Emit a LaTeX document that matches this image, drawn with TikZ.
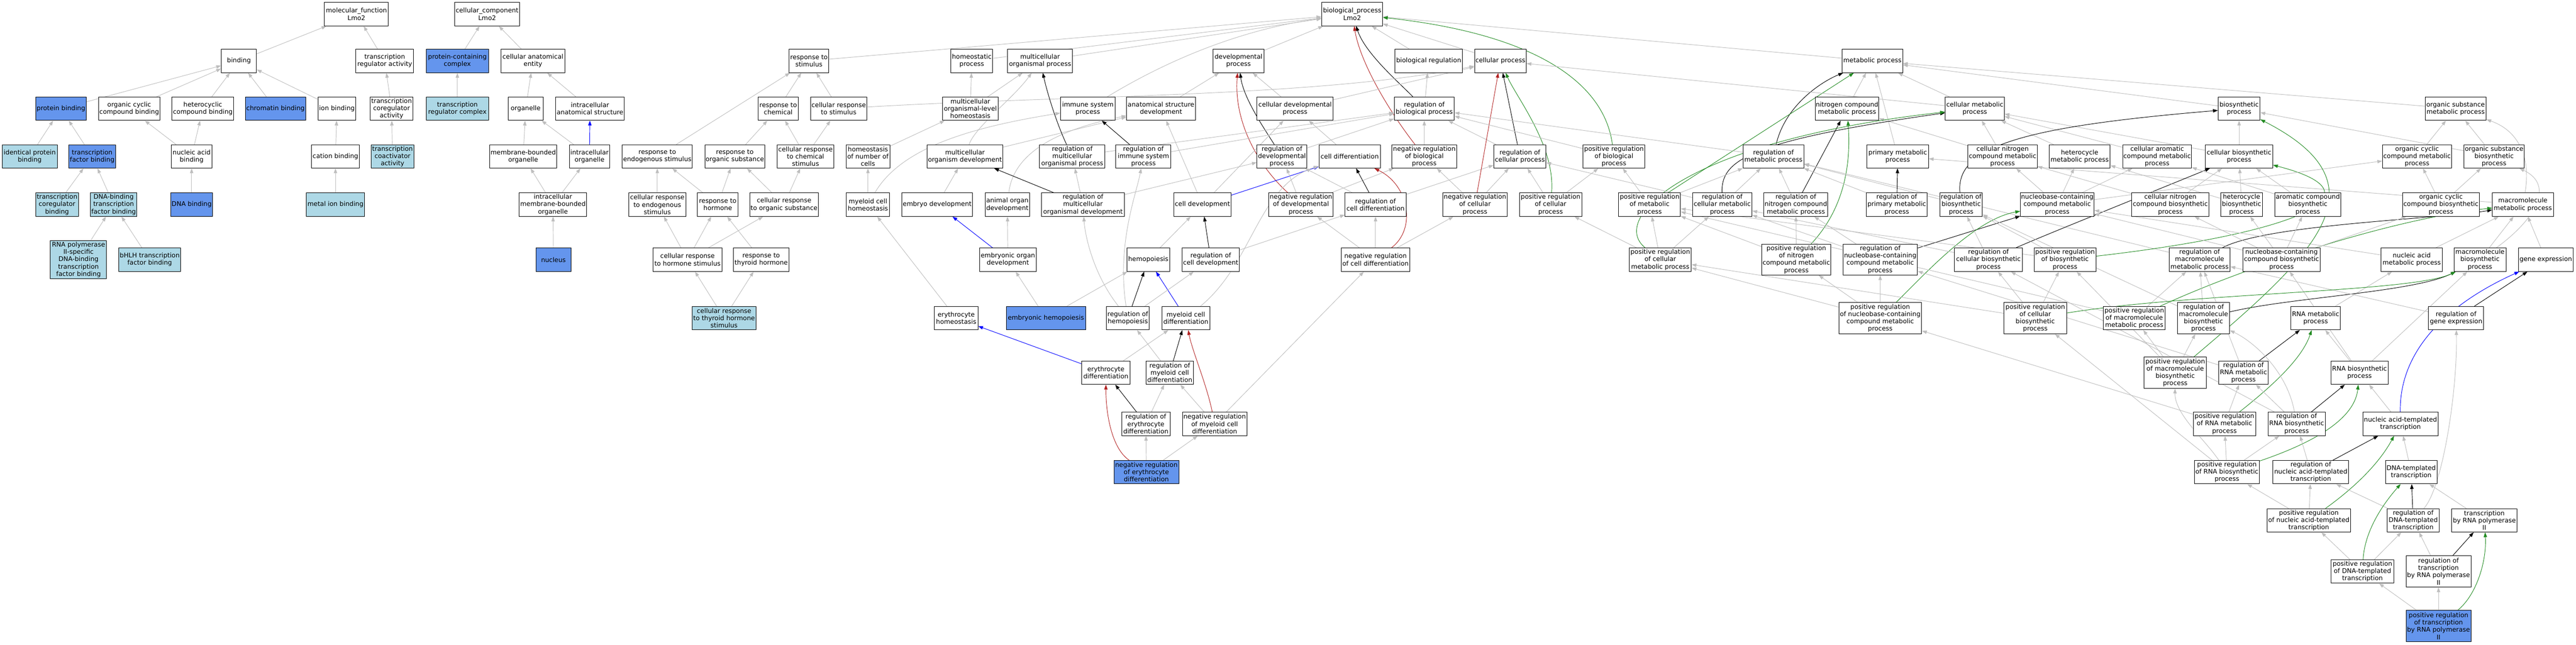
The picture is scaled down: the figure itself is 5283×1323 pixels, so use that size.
\documentclass[tikz,border=0pt]{standalone}
\usepackage{fontspec}
\setmainfont{DejaVu Sans}
\usetikzlibrary{arrows.meta,backgrounds}
\definecolor{hitblue}{HTML}{6495ED}
\definecolor{nearblue}{HTML}{ADD8E6}
\definecolor{edgegray}{HTML}{BEBEBE}
\definecolor{negred}{HTML}{B22222}
\definecolor{posgreen}{HTML}{228B22}
\definecolor{partblue}{HTML}{0000FF}
\tikzset{
  term/.style={draw=black, line width=1pt, fill=white, align=center, inner xsep=1pt, inner ysep=1pt,
    minimum height=48, font=\fontsize{13.1}{15}\selectfont},
  hit/.style={term, fill=hitblue},
  near/.style={term, fill=nearblue},
  isa/.style={draw=edgegray, line width=1pt, -{Triangle[length=10pt,width=7pt]}},
  reg/.style={isa, draw=black},
  negreg/.style={isa, draw=negred},
  posreg/.style={isa, draw=posgreen},
  partof/.style={isa, draw=partblue}
}
\begin{document}
\begin{tikzpicture}[x=1pt,y=-1pt]
\useasboundingbox (0,0) rectangle (5283,1323);

% molecular function
\node[term, minimum width=131] (mf) at (731,29) {molecular\_function\\Lmo2};
\node[term, minimum width=72] (binding) at (490,125) {binding};
\node[term, minimum width=118] (trreg) at (789,125) {transcription\\regulator activity};
\node[hit, minimum width=104] (protbind) at (125,223) {protein binding};
\node[term, minimum width=126] (orgcycbind) at (265,223) {organic cyclic\\compound binding};
\node[term, minimum width=127] (hetbind) at (416,223) {heterocyclic\\compound binding};
\node[hit, minimum width=124] (chrombind) at (565,223) {chromatin binding};
\node[term, minimum width=78] (ionbind) at (691,223) {ion binding};
\node[term, minimum width=88] (coregact) at (803,223) {transcription\\coregulator\\activity};
\node[near, minimum width=113] (identbind) at (61,321) {identical protein\\binding};
\node[hit, minimum width=97] (tfbind) at (189,321) {transcription\\factor binding};
\node[term, minimum width=83] (nucbind) at (393,321) {nucleic acid\\binding};
\node[term, minimum width=98] (catbind) at (688,321) {cation binding};
\node[near, minimum width=88] (coactact) at (805,321) {transcription\\coactivator\\activity};
\node[near, minimum width=88] (coregbind) at (117,420) {transcription\\coregulator\\binding};
\node[near, minimum width=96] (dnatfbind) at (233,420) {DNA-binding\\transcription\\factor binding};
\node[hit, minimum width=86] (dnabind) at (393,420) {DNA binding};
\node[near, minimum width=120] (metbind) at (688,420) {metal ion binding};
\node[near, minimum width=115, minimum height=79] (polbind) at (161,533) {RNA polymerase\\II-specific\\DNA-binding\\transcription\\factor binding};
\node[near, minimum width=127] (bhlhbind) at (307,533) {bHLH transcription\\factor binding};

% cellular component
\node[term, minimum width=134] (cc) at (999,29) {cellular\_component\\Lmo2};
\node[hit, minimum width=128] (protcomplex) at (938,125) {protein-containing\\complex};
\node[term, minimum width=131] (anatent) at (1093,125) {cellular anatomical\\entity};
\node[near, minimum width=128] (trcomplex) at (938,223) {transcription\\regulator complex};
\node[term, minimum width=72] (organelle) at (1078,223) {organelle};
\node[term, minimum width=141] (intraanat) at (1210,223) {intracellular\\anatomical structure};
\node[term, minimum width=138] (memborg) at (1073,321) {membrane-bounded\\organelle};
\node[term, minimum width=82] (intraorg) at (1209,321) {intracellular\\organelle};
\node[term, minimum width=138] (intramemorg) at (1134,420) {intracellular\\membrane-bounded\\organelle};
\node[hit, minimum width=72] (nucleus) at (1135,533) {nucleus};

% biological process
\node[term, minimum width=125] (bp) at (2773,29) {biological\_process\\Lmo2};
\node[term, minimum width=82] (respstim) at (1659,125) {response to\\stimulus};
\node[term, minimum width=86] (homproc) at (1993,125) {homeostatic\\process};
\node[term, minimum width=133] (multproc) at (2133,125) {multicellular\\organismal process};
\node[term, minimum width=104] (devproc) at (2540,125) {developmental\\process};
\node[term, minimum width=139] (bioreg) at (2930,125) {biological regulation};
\node[term, minimum width=106] (cellproc) at (3077,125) {cellular process};
\node[term, minimum width=124] (metproc) at (3840,125) {metabolic process};

\node[term, minimum width=82] (respchem) at (1596,223) {response to\\chemical};
\node[term, minimum width=116] (cellrespstim) at (1720,223) {cellular response\\to stimulus};
\node[term, minimum width=115] (multhom) at (1990,223) {multicellular\\organismal-level\\homeostasis};
\node[term, minimum width=112] (immproc) at (2231,223) {immune system\\process};
\node[term, minimum width=141] (anatdev) at (2381,223) {anatomical structure\\development};
\node[term, minimum width=156] (celldevproc) at (2656,223) {cellular developmental\\process};
\node[term, minimum width=123] (regbio) at (2921,223) {regulation of\\biological process};
\node[term, minimum width=130] (nitmet) at (3788,223) {nitrogen compound\\metabolic process};
\node[term, minimum width=121] (cellmet) at (4050,223) {cellular metabolic\\process};
\node[term, minimum width=86] (biosyn) at (4592,223) {biosynthetic\\process};
\node[term, minimum width=125] (orgsubmet) at (5036,223) {organic substance\\metabolic process};

\node[term, minimum width=144] (respendo) at (1348,321) {response to\\endogenous stimulus};
\node[term, minimum width=122] (resporg) at (1507,321) {response to\\organic substance};
\node[term, minimum width=117] (cellrespchem) at (1652,321) {cellular response\\to chemical\\stimulus};
\node[term, minimum width=90] (homnum) at (1780,321) {homeostasis\\of number of\\cells};
\node[term, minimum width=156] (multdev) at (1979,321) {multicellular\\organism development};
\node[term, minimum width=134] (regmult) at (2199,321) {regulation of\\multicellular\\organismal process};
\node[term, minimum width=113] (regimm) at (2345,321) {regulation of\\immune system\\process};
\node[term, minimum width=102] (regdev) at (2629,321) {regulation of\\developmental\\process};
\node[term, minimum width=126] (celldiff) at (2768,321) {cell differentiation};
\node[term, minimum width=133] (negregbio) at (2921,321) {negative regulation\\of biological\\process};
\node[term, minimum width=107] (regcell) at (3117,321) {regulation of\\cellular process};
\node[term, minimum width=127] (posregbio) at (3310,321) {positive regulation\\of biological\\process};
\node[term, minimum width=125] (regmet) at (3637,321) {regulation of\\metabolic process};
\node[term, minimum width=126] (primmet) at (3892,321) {primary metabolic\\process};
\node[term, minimum width=142] (cellnitmet) at (4107,321) {cellular nitrogen\\compound metabolic\\process};
\node[term, minimum width=125] (hetmet) at (4265,321) {heterocycle\\metabolic process};
\node[term, minimum width=141] (cellaromet) at (4424,321) {cellular aromatic\\compound metabolic\\process};
\node[term, minimum width=138] (cellbiosyn) at (4592,321) {cellular biosynthetic\\process};
\node[term, minimum width=142] (orgcycmet) at (4957,321) {organic cyclic\\compound metabolic\\process};
\node[term, minimum width=123] (orgsubbiosyn) at (5115,321) {organic substance\\biosynthetic\\process};

\node[term, minimum width=117] (cellrespendo) at (1348,420) {cellular response\\to endogenous\\stimulus};
\node[term, minimum width=83] (resphorm) at (1472,420) {response to\\hormone};
\node[term, minimum width=141] (cellresporg) at (1608,420) {cellular response\\to organic substance};
\node[term, minimum width=89] (myelhom) at (1780,420) {myeloid cell\\homeostasis};
\node[term, minimum width=145] (embdev) at (1922,420) {embryo development};
\node[term, minimum width=91] (animdev) at (2066,420) {animal organ\\development};
\node[term, minimum width=170] (regmultdev) at (2221,420) {regulation of\\multicellular\\organismal development};
\node[term, minimum width=117] (celldev) at (2466,420) {cell development};
\node[term, minimum width=132] (negregdev) at (2668,420) {negative regulation\\of developmental\\process};
\node[term, minimum width=125] (regdiff) at (2821,420) {regulation of\\cell differentiation};
\node[term, minimum width=133] (negregcell) at (3025,420) {negative regulation\\of cellular\\process};
\node[term, minimum width=128] (posregcell) at (3180,420) {positive regulation\\of cellular\\process};
\node[term, minimum width=127] (posregmet) at (3383,420) {positive regulation\\of metabolic\\process};
\node[term, minimum width=122] (regcellmet) at (3532,420) {regulation of\\cellular metabolic\\process};
\node[term, minimum width=131] (regnitmet) at (3683,420) {regulation of\\nitrogen compound\\metabolic process};
\node[term, minimum width=125] (regprimmet) at (3890,420) {regulation of\\primary metabolic\\process};
\node[term, minimum width=87] (regbiosyn) at (4022,420) {regulation of\\biosynthetic\\process};
\node[term, minimum width=151] (nucmet) at (4219,420) {nucleobase-containing\\compound metabolic\\process};
\node[term, minimum width=158] (cellnitbiosyn) at (4451,420) {cellular nitrogen\\compound biosynthetic\\process};
\node[term, minimum width=86] (hetbiosyn) at (4597,420) {heterocycle\\biosynthetic\\process};
\node[term, minimum width=136] (arobiosyn) at (4733,420) {aromatic compound\\biosynthetic\\process};
\node[term, minimum width=157] (orgcycbiosyn) at (5006,420) {organic cyclic\\compound biosynthetic\\process};
\node[term, minimum width=125] (macromet) at (5174,420) {macromolecule\\metabolic process};

\node[term, minimum width=141] (cellresphorm) at (1410,533) {cellular response\\to hormone stimulus};
\node[term, minimum width=115] (respthyr) at (1561,533) {response to\\thyroid hormone};
\node[term, minimum width=116] (embodev) at (2067,533) {embryonic organ\\development};
\node[term, minimum width=88] (hemo) at (2355,533) {hemopoiesis};
\node[term, minimum width=117] (regcelldev) at (2483,533) {regulation of\\cell development};
\node[term, minimum width=141] (negregdiff) at (2821,533) {negative regulation\\of cell differentiation};
\node[term, minimum width=127] (posregcellmet) at (3405,533) {positive regulation\\of cellular\\metabolic process};
\node[term, minimum width=142, minimum height=63] (posregnitmet) at (3684,533) {positive regulation\\of nitrogen\\compound metabolic\\process};
\node[term, minimum width=153, minimum height=63] (regnucmet) at (3856,533) {regulation of\\nucleobase-containing\\compound metabolic\\process};
\node[term, minimum width=139] (regcellbiosyn) at (4078,533) {regulation of\\cellular biosynthetic\\process};
\node[term, minimum width=127] (posregbiosyn) at (4235,533) {positive regulation\\of biosynthetic\\process};
\node[term, minimum width=125] (regmacromet) at (4511,533) {regulation of\\macromolecule\\metabolic process};
\node[term, minimum width=158] (nucbiosyn) at (4679,533) {nucleobase-containing\\compound biosynthetic\\process};
\node[term, minimum width=126] (nucacmet) at (4946,533) {nucleic acid\\metabolic process};
\node[term, minimum width=107] (macrobiosyn) at (5086,533) {macromolecule\\biosynthetic\\process};
\node[term, minimum width=112] (geneexp) at (5221,533) {gene expression};

\node[near, minimum width=131] (crthyr) at (1485,653) {cellular response\\to thyroid hormone\\stimulus};
\node[term, minimum width=89] (eryhom) at (1961,653) {erythrocyte\\homeostasis};
\node[hit, minimum width=163] (embhemo) at (2145,653) {embryonic hemopoiesis};
\node[term, minimum width=88] (reghemo) at (2313,653) {regulation of\\hemopoiesis};
\node[term, minimum width=98] (myeldiff) at (2432,653) {myeloid cell\\differentiation};
\node[term, minimum width=170, minimum height=64] (posregnucmet) at (3856,653) {positive regulation\\of nucleobase-containing\\compound metabolic\\process};
\node[term, minimum width=129, minimum height=64] (posregcellbiosyn) at (4174,653) {positive regulation\\of cellular\\biosynthetic\\process};
\node[term, minimum width=126] (posregmacromet) at (4377,653) {positive regulation\\of macromolecule\\metabolic process};
\node[term, minimum width=107, minimum height=64] (regmacrobiosyn) at (4519,653) {regulation of\\macromolecule\\biosynthetic\\process};
\node[term, minimum width=102] (rnamet) at (4749,653) {RNA metabolic\\process};
\node[term, minimum width=113] (reggeneexp) at (5037,653) {regulation of\\gene expression};

\node[term, minimum width=99] (erydiff) at (2268,765) {erythrocyte\\differentiation};
\node[term, minimum width=98] (regmyeldiff) at (2399,765) {regulation of\\myeloid cell\\differentiation};
\node[term, minimum width=128, minimum height=64] (posregmacrobiosyn) at (4461,765) {positive regulation\\of macromolecule\\biosynthetic\\process};
\node[term, minimum width=102] (regrnamet) at (4601,765) {regulation of\\RNA metabolic\\process};
\node[term, minimum width=117] (rnabiosyn) at (4839,765) {RNA biosynthetic\\process};

\node[term, minimum width=99] (regerydiff) at (2350,870) {regulation of\\erythrocyte\\differentiation};
\node[term, minimum width=132] (negregmyeldiff) at (2491,870) {negative regulation\\of myeloid cell\\differentiation};
\node[term, minimum width=128] (posregrnamet) at (4562,870) {positive regulation\\of RNA metabolic\\process};
\node[term, minimum width=117] (regrnabiosyn) at (4710,870) {regulation of\\RNA biosynthetic\\process};
\node[term, minimum width=154] (natrans) at (4923,870) {nucleic acid-templated\\transcription};

\node[hit, minimum width=133] (negregerydiff) at (2351,969) {negative regulation\\of erythrocyte\\differentiation};
\node[term, minimum width=134] (posregrnabiosyn) at (4567,969) {positive regulation\\of RNA biosynthetic\\process};
\node[term, minimum width=155] (regnatrans) at (4739,969) {regulation of\\nucleic acid-templated\\transcription};
\node[term, minimum width=106] (dnatrans) at (4945,969) {DNA-templated\\transcription};

\node[term, minimum width=171] (posregnatrans) at (4735,1068) {positive regulation\\of nucleic acid-templated\\transcription};
\node[term, minimum width=106] (regdnatrans) at (4949,1068) {regulation of\\DNA-templated\\transcription};
\node[term, minimum width=134] (polIItrans) at (5095,1068) {transcription\\by RNA polymerase\\II};

\node[term, minimum width=128] (posregdnatrans) at (4845,1173) {positive regulation\\of DNA-templated\\transcription};
\node[term, minimum width=133, minimum height=64] (regpolII) at (5001,1173) {regulation of\\transcription\\by RNA polymerase\\II};
\node[hit, minimum width=133, minimum height=64] (posregpolII) at (5001,1285) {positive regulation\\of transcription\\by RNA polymerase\\II};

\begin{scope}[on background layer]
% molecular function edges
\draw[isa] (binding) -- (mf);
\draw[isa] (trreg) -- (mf);
\draw[isa] (protbind) -- (binding);
\draw[isa] (orgcycbind) -- (binding);
\draw[isa] (hetbind) -- (binding);
\draw[isa] (chrombind) -- (binding);
\draw[isa] (ionbind) -- (binding);
\draw[isa] (coregact) -- (trreg);
\draw[isa] (identbind) -- (protbind);
\draw[isa] (tfbind) -- (protbind);
\draw[isa] (nucbind) -- (orgcycbind);
\draw[isa] (nucbind) -- (hetbind);
\draw[isa] (catbind) -- (ionbind);
\draw[isa] (coactact) -- (coregact);
\draw[isa] (coregbind) -- (tfbind);
\draw[isa] (dnatfbind) -- (tfbind);
\draw[isa] (dnabind) -- (nucbind);
\draw[isa] (metbind) -- (catbind);
\draw[isa] (polbind) -- (dnatfbind);
\draw[isa] (bhlhbind) -- (dnatfbind);

% cellular component edges
\draw[isa] (protcomplex) -- (cc);
\draw[isa] (anatent) -- (cc);
\draw[isa] (trcomplex) -- (protcomplex);
\draw[isa] (organelle) -- (anatent);
\draw[isa] (intraanat) -- (anatent);
\draw[isa] (memborg) -- (organelle);
\draw[isa] (intraorg) -- (organelle);
\draw[partof] (intraorg) -- (intraanat);
\draw[isa] (intramemorg) -- (memborg);
\draw[isa] (intramemorg) -- (intraorg);
\draw[isa] (nucleus) -- (intramemorg);

% biological process edges
\draw[isa] (respstim) -- (bp);
\draw[isa] (homproc) -- (bp);
\draw[isa] (multproc) -- (bp);
\draw[isa] (devproc) -- (bp);
\draw[isa] (immproc) .. controls (2400,120) and (2550,60) .. (bp);
\draw[isa] (bioreg) -- (bp);
\draw[isa] (cellproc) -- (bp);
\draw[isa] (metproc) -- (bp);
\draw[reg] (regbio) .. controls (2870,170) and (2800,110) .. (bp);
\draw[negreg] (negregbio) .. controls (2850,230) and (2790,130) .. (bp);
\draw[posreg] (posregbio) .. controls (3290,170) and (3150,70) .. (bp);

\draw[isa] (respchem) -- (respstim);
\draw[isa] (cellrespstim) -- (respstim);
\draw[isa] (cellrespstim) .. controls (2200,195) and (2700,200) .. (cellproc);
\draw[isa] (respendo) -- (respstim);
\draw[isa] (resporg) -- (respchem);
\draw[isa] (cellrespchem) -- (respchem);
\draw[isa] (cellrespchem) -- (cellrespstim);
\draw[isa] (homnum) -- (multhom);
\draw[isa] (multhom) -- (homproc);
\draw[isa] (multhom) -- (multproc);
\draw[isa] (multdev) .. controls (2000,260) and (2080,200) .. (multproc);
\draw[isa] (multdev) -- (anatdev);
\draw[isa] (cellrespendo) -- (respendo);
\draw[isa] (resphorm) -- (respendo);
\draw[isa] (resphorm) -- (resporg);
\draw[isa] (cellresporg) -- (resporg);
\draw[isa] (cellresporg) -- (cellrespchem);
\draw[isa] (cellresphorm) -- (cellrespendo);
\draw[isa] (cellresphorm) -- (resphorm);
\draw[isa] (cellresphorm) -- (cellresporg);
\draw[isa] (respthyr) -- (resphorm);
\draw[isa] (crthyr) -- (cellresphorm);
\draw[isa] (crthyr) -- (respthyr);
\draw[isa] (myelhom) -- (homnum);
\draw[isa] (myelhom) .. controls (1850,300) and (2000,260) .. (immproc);
\draw[isa] (embdev) -- (multdev);
\draw[isa] (eryhom) -- (myelhom);
\draw[partof] (embodev) -- (embdev);
\draw[isa] (embodev) -- (animdev);
\draw[isa] (animdev) .. controls (2080,300) and (2200,260) .. (anatdev);

\draw[isa] (anatdev) -- (devproc);
\draw[isa] (celldevproc) -- (devproc);
\draw[isa] (celldevproc) -- (cellproc);
\draw[reg] (regdev) .. controls (2590,260) and (2550,200) .. (devproc);
\draw[negreg] (negregdev) .. controls (2580,340) and (2530,250) .. (devproc);
\draw[reg] (regmult) .. controls (2170,260) and (2150,200) .. (multproc);
\draw[isa] (regmult) -- (regbio);
\draw[reg] (regimm) -- (immproc);
\draw[isa] (regimm) -- (regbio);
\draw[isa] (regdev) -- (regbio);
\draw[isa] (celldiff) -- (celldevproc);
\draw[isa] (celldev) -- (anatdev);
\draw[isa] (celldev) -- (celldevproc);
\draw[partof] (celldev) -- (celldiff);
\draw[isa] (negregdev) -- (regdev);
\draw[isa] (negregdev) -- (negregbio);
\draw[isa] (regdiff) -- (regdev);
\draw[reg] (regdiff) -- (celldiff);
\draw[isa] (regdiff) -- (regcell);
\draw[isa] (regbio) -- (bioreg);
\draw[isa] (negregbio) -- (regbio);
\draw[isa] (regcell) -- (regbio);
\draw[reg] (regcell) -- (cellproc);
\draw[isa] (negregcell) -- (negregbio);
\draw[negreg] (negregcell) -- (cellproc);
\draw[isa] (negregcell) -- (regcell);
\draw[isa] (regmultdev) -- (regmult);
\draw[reg] (regmultdev) -- (multdev);
\draw[isa] (regmultdev) -- (regdev);
\draw[isa] (hemo) -- (celldev);
\draw[reg] (regcelldev) -- (celldev);
\draw[isa] (regcelldev) -- (regdiff);
\draw[isa] (negregdiff) -- (negregdev);
\draw[isa] (negregdiff) -- (regdiff);
\draw[negreg] (negregdiff) .. controls (2905,470) and (2890,380) .. (celldiff);
\draw[isa] (negregdiff) -- (negregcell);
\draw[isa] (embhemo) -- (embodev);
\draw[isa] (embhemo) -- (hemo);
\draw[reg] (reghemo) -- (hemo);
\draw[partof] (myeldiff) -- (hemo);
\draw[isa] (reghemo) -- (regcelldev);
\draw[isa] (reghemo) .. controls (2240,560) and (2225,480) .. (regmultdev);
\draw[isa] (reghemo) .. controls (2290,500) and (2330,400) .. (regimm);
\draw[isa] (myeldiff) .. controls (2570,540) and (2580,380) .. (celldiff);
\draw[isa] (erydiff) -- (myeldiff);
\draw[partof] (erydiff) -- (eryhom);
\draw[reg] (regerydiff) -- (erydiff);
\draw[isa] (regerydiff) -- (regmyeldiff);
\draw[negreg] (negregerydiff) .. controls (2280,920) and (2268,850) .. (erydiff);
\draw[isa] (negregerydiff) -- (regerydiff);
\draw[isa] (negregerydiff) -- (negregmyeldiff);
\draw[reg] (regmyeldiff) -- (myeldiff);
\draw[isa] (regmyeldiff) -- (reghemo);
\draw[negreg] (negregmyeldiff) .. controls (2475,790) and (2445,720) .. (myeldiff);
\draw[isa] (negregmyeldiff) -- (regmyeldiff);
\draw[isa] (negregmyeldiff) -- (negregdiff);

% metabolic edges
\draw[posreg] (posregcell) .. controls (3190,300) and (3110,200) .. (cellproc);
\draw[isa] (posregcell) -- (posregbio);
\draw[isa] (posregcell) -- (regcell);
\draw[isa] (posregbio) -- (regbio);
\draw[isa] (nitmet) -- (metproc);
\draw[isa] (primmet) -- (metproc);
\draw[isa] (cellmet) -- (metproc);
\draw[reg] (regmet) .. controls (3660,220) and (3730,170) .. (metproc);
\draw[posreg] (posregmet) -- (metproc);
\draw[isa] (cellmet) -- (cellproc);
\draw[isa] (orgsubmet) -- (metproc);
\draw[isa] (biosyn) -- (metproc);
\draw[isa] (cellnitmet) -- (nitmet);
\draw[isa] (cellnitmet) -- (cellmet);
\draw[isa] (cellbiosyn) -- (cellmet);
\draw[isa] (cellaromet) -- (cellmet);
\draw[isa] (hetmet) -- (cellmet);
\draw[reg] (regbiosyn) .. controls (4010,300) and (4150,260) .. (biosyn);
\draw[reg] (regnitmet) -- (nitmet);
\draw[posreg] (posregnitmet) .. controls (3790,420) and (3795,320) .. (nitmet);
\draw[reg] (regcellmet) .. controls (3530,330) and (3580,290) .. (cellmet);
\draw[posreg] (posregcellmet) .. controls (3300,450) and (3450,290) .. (cellmet);
\draw[isa] (posregmet) -- (regmet);
\draw[isa] (regcellmet) -- (regmet);
\draw[isa] (regnitmet) -- (regmet);
\draw[isa] (regprimmet) -- (regmet);
\draw[isa] (regbiosyn) -- (regmet);
\draw[isa] (regmacromet) -- (regmet);
\draw[reg] (regprimmet) -- (primmet);
\draw[isa] (macromet) -- (primmet);
\draw[isa] (posregcellmet) -- (posregcell);
\draw[isa] (posregmet) -- (posregbio);
\draw[isa] (posregcellmet) -- (posregmet);
\draw[isa] (posregcellmet) -- (regcellmet);
\draw[isa] (regcellmet) -- (regcell);
\draw[isa] (regmet) -- (regbio);
\draw[isa] (posregnitmet) -- (regnitmet);
\draw[isa] (posregnitmet) -- (posregmet);
\draw[isa] (regnucmet) -- (regnitmet);
\draw[isa] (regnucmet) -- (regcellmet);
\draw[reg] (regnucmet) -- (nucmet);
\draw[isa] (posregnucmet) -- (regnucmet);
\draw[isa] (posregnucmet) -- (posregnitmet);
\draw[isa] (posregnucmet) -- (posregcellmet);
\draw[posreg] (posregnucmet) .. controls (3950,560) and (4050,450) .. (nucmet);
\draw[isa] (regcellbiosyn) -- (regbiosyn);
\draw[reg] (regcellbiosyn) .. controls (4200,480) and (4350,420) .. (cellbiosyn);
\draw[isa] (regcellbiosyn) -- (regcellmet);
\draw[isa] (posregcellbiosyn) -- (regcellbiosyn);
\draw[isa] (posregcellbiosyn) -- (posregcellmet);
\draw[isa] (posregcellbiosyn) -- (posregbiosyn);
\draw[isa] (posregbiosyn) -- (regbiosyn);
\draw[isa] (posregbiosyn) -- (posregmet);
\draw[posreg] (posregbiosyn) .. controls (4700,480) and (4900,400) .. (cellbiosyn);
\draw[isa] (nucmet) -- (hetmet);
\draw[isa] (nucmet) -- (cellaromet);
\draw[isa] (nucmet) -- (orgcycmet);
\draw[isa] (nucmet) -- (cellnitmet);

% biosynthetic edges
\draw[isa] (cellbiosyn) -- (biosyn);
\draw[isa] (orgcycmet) -- (orgsubmet);
\draw[isa] (orgsubbiosyn) -- (orgsubmet);
\draw[isa] (macromet) .. controls (5190,330) and (5170,270) .. (orgsubmet);
\draw[isa] (orgsubbiosyn) -- (biosyn);
\draw[isa] (cellnitbiosyn) -- (cellbiosyn);
\draw[isa] (hetbiosyn) -- (cellbiosyn);
\draw[isa] (arobiosyn) -- (cellbiosyn);
\draw[isa] (hetbiosyn) -- (hetmet);
\draw[isa] (arobiosyn) -- (cellaromet);
\draw[isa] (cellnitbiosyn) -- (cellnitmet);
\draw[isa] (orgcycbiosyn) -- (orgcycmet);
\draw[isa] (orgcycbiosyn) -- (orgsubbiosyn);
\draw[isa] (macrobiosyn) .. controls (5200,450) and (5240,380) .. (orgsubbiosyn);
\draw[isa] (nucacmet) -- (macromet);
\draw[isa] (macrobiosyn) -- (macromet);
\draw[isa] (geneexp) -- (macromet);
\draw[reg] (regmacromet) .. controls (4650,460) and (5000,450) .. (macromet);
\draw[posreg] (posregmacromet) .. controls (4600,550) and (4900,450) .. (macromet);
\draw[isa] (nucbiosyn) -- (orgcycbiosyn);
\draw[isa] (nucbiosyn) -- (cellnitbiosyn);
\draw[isa] (nucbiosyn) -- (hetbiosyn);
\draw[isa] (nucbiosyn) -- (arobiosyn);
\draw[isa] (nucbiosyn) -- (nucmet);
\draw[isa] (nucacmet) -- (nucmet);
\draw[isa] (rnamet) -- (nucacmet);
\draw[isa] (rnabiosyn) -- (nucbiosyn);
\draw[isa] (rnabiosyn) -- (macrobiosyn);
\draw[isa] (rnabiosyn) -- (rnamet);
\draw[reg] (reggeneexp) -- (geneexp);
\draw[partof] (natrans) .. controls (4920,700) and (5050,610) .. (geneexp);
\draw[isa] (posregmacromet) -- (regmacromet);
\draw[isa] (posregmacromet) -- (posregmet);
\draw[isa] (regmacrobiosyn) -- (regmacromet);
\draw[isa] (regmacrobiosyn) -- (regbiosyn);
\draw[reg] (regmacrobiosyn) .. controls (4700,610) and (4950,600) .. (macrobiosyn);
\draw[isa] (reggeneexp) -- (regmacromet);
\draw[isa] (posregmacrobiosyn) -- (regmacrobiosyn);
\draw[isa] (posregmacrobiosyn) -- (posregmacromet);
\draw[isa] (posregmacrobiosyn) -- (posregbiosyn);
\draw[posreg] (posregmacrobiosyn) .. controls (4750,520) and (4900,380) .. (biosyn);
\draw[posreg] (posregcellbiosyn) .. controls (4500,600) and (4950,600) .. (macrobiosyn);

% transcription edges
\draw[isa] (regrnamet) -- (regnucmet);
\draw[isa] (regrnamet) -- (regmacromet);
\draw[reg] (regrnamet) -- (rnamet);
\draw[isa] (posregrnamet) -- (regrnamet);
\draw[posreg] (posregrnamet) .. controls (4650,800) and (4720,740) .. (rnamet);
\draw[isa] (posregrnamet) -- (posregnucmet);
\draw[isa] (regrnabiosyn) -- (regrnamet);
\draw[reg] (regrnabiosyn) -- (rnabiosyn);
\draw[isa] (regrnabiosyn) .. controls (4690,760) and (4620,700) .. (regmacrobiosyn);
\draw[isa] (regrnabiosyn) -- (regcellbiosyn);
\draw[isa] (natrans) -- (rnabiosyn);
\draw[isa] (posregrnabiosyn) -- (posregrnamet);
\draw[isa] (posregrnabiosyn) -- (regrnabiosyn);
\draw[posreg] (posregrnabiosyn) .. controls (4770,900) and (4830,850) .. (rnabiosyn);
\draw[isa] (posregrnabiosyn) .. controls (4520,900) and (4460,850) .. (posregmacrobiosyn);
\draw[isa] (posregrnabiosyn) -- (posregcellbiosyn);
\draw[isa] (regnatrans) -- (regrnabiosyn);
\draw[reg] (regnatrans) -- (natrans);
\draw[isa] (dnatrans) -- (natrans);
\draw[isa] (posregnatrans) -- (posregrnabiosyn);
\draw[isa] (posregnatrans) -- (regnatrans);
\draw[posreg] (posregnatrans) .. controls (4830,1000) and (4880,950) .. (natrans);
\draw[isa] (regdnatrans) -- (regnatrans);
\draw[reg] (regdnatrans) -- (dnatrans);
\draw[isa] (regdnatrans) .. controls (5010,1000) and (5040,800) .. (reggeneexp);
\draw[isa] (polIItrans) -- (dnatrans);
\draw[isa] (posregdnatrans) -- (posregnatrans);
\draw[isa] (posregdnatrans) -- (regdnatrans);
\draw[posreg] (posregdnatrans) .. controls (4850,1080) and (4900,1020) .. (dnatrans);
\draw[isa] (regpolII) -- (regdnatrans);
\draw[reg] (regpolII) -- (polIItrans);
\draw[isa] (posregpolII) -- (posregdnatrans);
\draw[isa] (posregpolII) -- (regpolII);
\draw[posreg] (posregpolII) .. controls (5080,1220) and (5100,1150) .. (polIItrans);
\end{scope}
\end{tikzpicture}
\end{document}
